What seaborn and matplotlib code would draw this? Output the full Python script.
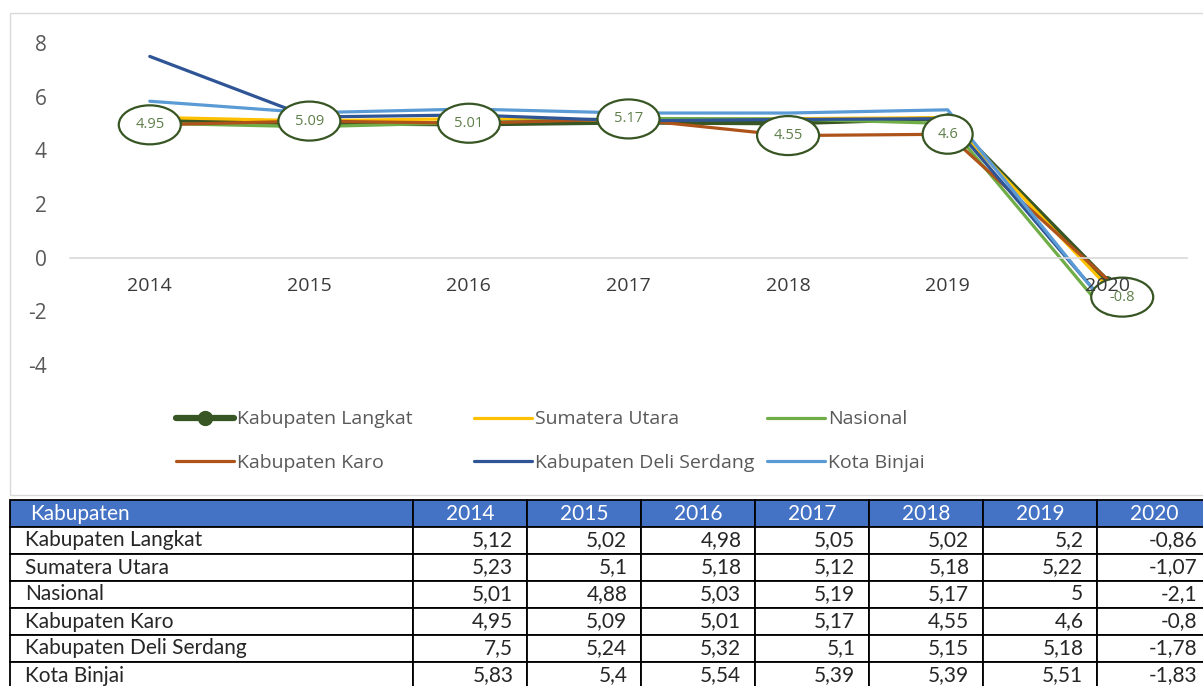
import numpy as np
import pandas as pd
import seaborn as sns
import matplotlib.pyplot as plt
from matplotlib.patches import Ellipse, Rectangle
from matplotlib.transforms import ScaledTranslation
from matplotlib.lines import Line2D

years = ['2014', '2015', '2016', '2017', '2018', '2019', '2020']
langkat = [5.12, 5.02, 4.98, 5.05, 5.02, 5.2, -0.86]
sumut = [5.23, 5.1, 5.18, 5.12, 5.18, 5.22, -1.07]
nasional = [5.01, 4.88, 5.03, 5.19, 5.17, 5.0, -2.1]
karo = [4.95, 5.09, 5.01, 5.17, 4.55, 4.6, -0.8]
deli = [7.5, 5.24, 5.32, 5.1, 5.15, 5.18, -1.78]
binjai = [5.83, 5.4, 5.54, 5.39, 5.39, 5.51, -1.83]

names = ['Kabupaten Langkat', 'Sumatera Utara', 'Nasional',
         'Kabupaten Karo', 'Kabupaten Deli Serdang', 'Kota Binjai']
series = [langkat, sumut, nasional, karo, deli, binjai]
colors = ['#375623', '#FFC000', '#70AD47', '#AE5319', '#2F5597', '#5B9BD5']

W, H = 1203, 686

sns.set_style('white')
plt.rcParams['font.family'] = ['Open Sans', 'DejaVu Sans']
plt.rcParams['axes.unicode_minus'] = False

# long format table
rows = []
for name, vals in zip(names, series):
    for i, v in enumerate(vals):
        rows.append({'series': name, 'pos': i, 'value': v})
df = pd.DataFrame(rows)

fig = plt.figure(figsize=(W / 100, H / 100), dpi=100)

# light frame around the chart
fig.patches.append(Rectangle((10 / W, 1 - 495 / H), 1300 / W, 482 / H,
                             transform=fig.transFigure, fill=False,
                             ec='#D9D9D9', lw=1))

ax = fig.add_axes([70 / W, 1 - 365 / H, (1187 - 70) / W, 322 / H])

for name, color in zip(names, colors):
    sub = df[df['series'] == name]
    if name == 'Kabupaten Langkat':
        sns.lineplot(data=sub, x='pos', y='value', ax=ax, color=color, lw=3.5,
                     marker='o', markersize=7, markeredgecolor=color, legend=False)
    else:
        sns.lineplot(data=sub, x='pos', y='value', ax=ax, color=color, lw=2.3,
                     legend=False)

ax.set_xlim(-0.5, len(years) - 0.5)
ax.set_ylim(-4, 8)
ax.set_yticks(np.arange(-4, 9, 2))
ax.set_xticks(range(len(years)))
ax.set_xticklabels(years)
ax.set_xlabel('')
ax.set_ylabel('')
for s in ['top', 'right', 'left']:
    ax.spines[s].set_visible(False)
ax.spines['bottom'].set_position(('data', 0))
ax.spines['bottom'].set_color('#D9D9D9')
ax.spines['bottom'].set_linewidth(1.2)
ax.tick_params(axis='x', length=0, pad=14, labelsize=14, labelcolor='#3A3A3A')
ax.tick_params(axis='y', length=0, pad=17, labelsize=15, labelcolor='#595959')
ax.xaxis.set_zorder(3)

# ellipse data labels for Kabupaten Karo
for i, v in enumerate(karo):
    txt = f'{v:g}'
    dx, dy = (0.15, -0.18) if i == len(karo) - 1 else (0, 0)
    w_in = 0.14 + 0.12 * len(txt)
    tr = fig.dpi_scale_trans + ScaledTranslation(i, v, ax.transData)
    ax.add_patch(Ellipse((dx, dy), w_in, 0.39, transform=tr, fc='white',
                         ec='#375623', lw=1.6, zorder=2.2, clip_on=False))
    ax.text(dx, dy, txt, transform=tr, ha='center', va='center',
            fontsize=10.5, color='#5E7F4A', zorder=6)

# legend: three columns
handles = []
for name, color in zip(names, colors):
    if name == 'Kabupaten Langkat':
        handles.append(Line2D([], [], color=color, lw=4.5, marker='o',
                              markersize=10))
    else:
        handles.append(Line2D([], [], color=color, lw=2.3))
col_x = [176, 474, 767]
for c, x0 in enumerate(col_x):
    leg = fig.legend([handles[c], handles[c + 3]], [names[c], names[c + 3]],
                     loc='center left', bbox_to_anchor=(x0 / W, 1 - 441 / H),
                     frameon=False, fontsize=14, handlelength=3.0,
                     handletextpad=0.15, labelspacing=1.3, borderpad=0,
                     borderaxespad=0, labelcolor='#595959')

# data table below the chart
def fmt(v):
    return f'{v:g}'.replace('.', ',')

cell_text = [[name] + [fmt(v) for v in vals] for name, vals in zip(names, series)]
col_w = [403] + [114] * len(years)
tot = sum(col_w)
tax = fig.add_axes([10 / W, -3 / H, tot / W, 189 / H])
tax.axis('off')
tbl = tax.table(cellText=cell_text, colLabels=['Kabupaten'] + years,
                colWidths=[w / tot for w in col_w], bbox=[0, 0, 1, 1],
                cellLoc='right')
tbl.auto_set_font_size(False)
tbl.set_fontsize(15)
for (r, c), cell in tbl.get_celld().items():
    cell.set_edgecolor('black')
    cell.set_linewidth(1.3)
    t = cell.get_text()
    t.set_fontfamily(['Lato', 'DejaVu Sans'])
    if c == 0:
        cell._loc = 'left'
        t.set_horizontalalignment('left')
        cell.PAD = 0.05 if r == 0 else 0.037
    else:
        cell.PAD = 0.12
    if r == 0:
        cell.set_facecolor('#4472C4')
        t.set_color('white')

fig.savefig('out.png', dpi=100)
